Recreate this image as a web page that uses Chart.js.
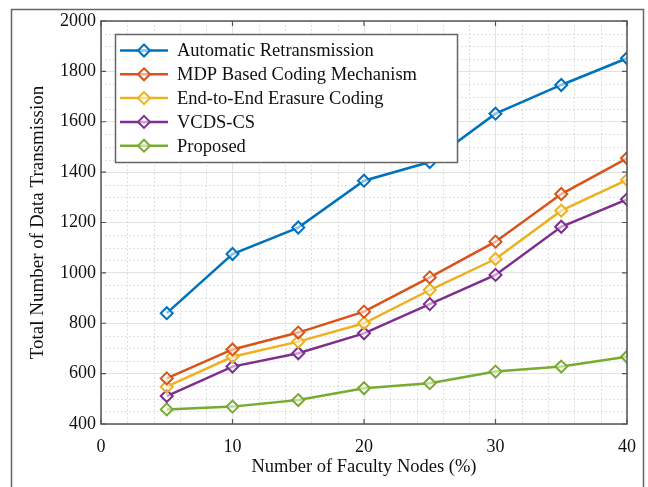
<!DOCTYPE html>
<html>
<head>
<meta charset="utf-8">
<script src="https://cdn.jsdelivr.net/npm/chart.js@4.4.0/dist/chart.umd.min.js"></script>
<style>
  html, body { margin: 0; padding: 0; background: #fff; }
  #wrap { width: 648px; height: 487px; }
</style>
</head>
<body>
<div id="wrap"><canvas id="chart" width="648" height="487"></canvas></div>
<script>
// data
const faultyNodes = [5, 10, 15, 20, 25, 30, 35, 40];
const autoRetrans = [840, 1075, 1180, 1366, 1440, 1632, 1746, 1852];
const mdpCoding   = [581, 696, 763, 846, 982, 1124, 1313, 1455];
const e2eErasure  = [548, 667, 727, 800, 932, 1055, 1247, 1369];
const vcdsCs      = [511, 628, 681, 760, 876, 992, 1183, 1292];
const proposed    = [458, 469, 495, 542, 562, 608, 628, 667];

const seriesNames = ['Automatic Retransmission', 'MDP Based Coding Mechanism',
  'End-to-End Erasure Coding', 'VCDS-CS', 'Proposed'];
const seriesColors = ['#0072BD', '#D95319', '#EDB120', '#7E2F8E', '#77AC30'];

const xTicks = [0, 10, 20, 30, 40];
const yTicks = [400, 600, 800, 1000, 1200, 1400, 1600, 1800, 2000];

const serif = 'Liberation Serif, Times New Roman, serif';

function toPoints(vals) {
  return vals.map((v, i) => ({ x: faultyNodes[i], y: v }));
}

const allSeries = [autoRetrans, mdpCoding, e2eErasure, vcdsCs, proposed];

const datasets = allSeries.map((vals, i) => ({
  label: seriesNames[i],
  data: toPoints(vals),
  borderColor: seriesColors[i],
  backgroundColor: seriesColors[i],
  borderWidth: 2.5,
  pointStyle: 'rectRot',
  pointRadius: 6,
  pointBorderWidth: 2,
  pointBackgroundColor: 'rgba(255,255,255,0.55)',
  pointBorderColor: seriesColors[i],
  tension: 0
}));

// minor dotted grid + box, ticks and outer frame
const backdrop = {
  id: 'backdrop',
  beforeDatasetsDraw(chart) {
    const { ctx, chartArea: a, scales: { x, y } } = chart;
    ctx.save();
    ctx.strokeStyle = '#d6d6d6';
    ctx.lineWidth = 1;
    ctx.setLineDash([1.5, 2.5]);
    for (let v = 2; v < 40; v += 2) {
      if (v % 10 === 0) continue;
      const px = Math.round(x.getPixelForValue(v)) + 0.5;
      ctx.beginPath(); ctx.moveTo(px, a.top); ctx.lineTo(px, a.bottom); ctx.stroke();
    }
    for (let v = 450; v < 2000; v += 50) {
      if (v % 200 === 0) continue;
      const py = Math.round(y.getPixelForValue(v)) + 0.5;
      ctx.beginPath(); ctx.moveTo(a.left, py); ctx.lineTo(a.right, py); ctx.stroke();
    }
    ctx.restore();
  },
  afterDraw(chart) {
    const { ctx, chartArea: a, scales: { x, y } } = chart;
    ctx.save();
    ctx.strokeStyle = '#555';
    ctx.lineWidth = 1.5;
    ctx.strokeRect(a.left, a.top, a.right - a.left, a.bottom - a.top);
    ctx.lineWidth = 1.2;
    xTicks.forEach(v => {
      const px = x.getPixelForValue(v);
      ctx.beginPath();
      ctx.moveTo(px, a.bottom); ctx.lineTo(px, a.bottom - 5);
      ctx.moveTo(px, a.top); ctx.lineTo(px, a.top + 5);
      ctx.stroke();
    });
    yTicks.forEach(v => {
      const py = y.getPixelForValue(v);
      ctx.beginPath();
      ctx.moveTo(a.left, py); ctx.lineTo(a.left + 5, py);
      ctx.moveTo(a.right, py); ctx.lineTo(a.right - 5, py);
      ctx.stroke();
    });
    ctx.strokeStyle = '#666';
    ctx.lineWidth = 1.5;
    ctx.strokeRect(11.5, 9.5, 632, 500);
    ctx.restore();
  }
};

// legend box inside the plot, upper left
const boxLegend = {
  id: 'boxLegend',
  afterDatasetsDraw(chart) {
    const { ctx } = chart;
    const bx = 115, by = 34, bw = 342, bh = 128;
    ctx.save();
    ctx.fillStyle = '#fff';
    ctx.fillRect(bx, by, bw, bh);
    ctx.strokeStyle = '#666';
    ctx.lineWidth = 1.5;
    ctx.strokeRect(bx + 0.5, by + 0.5, bw, bh);
    ctx.font = '18.5px ' + serif;
    ctx.textBaseline = 'middle';
    chart.data.datasets.forEach((ds, i) => {
      const cy = by + 16.5 + i * 23.8;
      ctx.strokeStyle = ds.borderColor;
      ctx.lineWidth = 2.5;
      ctx.beginPath(); ctx.moveTo(120, cy); ctx.lineTo(168, cy); ctx.stroke();
      ctx.lineWidth = 2;
      ctx.fillStyle = 'rgba(255,255,255,0.55)';
      ctx.beginPath();
      ctx.moveTo(144, cy - 6); ctx.lineTo(150, cy); ctx.lineTo(144, cy + 6); ctx.lineTo(138, cy);
      ctx.closePath(); ctx.fill(); ctx.stroke();
      ctx.fillStyle = '#111';
      ctx.fillText(ds.label, 177, cy + 1);
    });
    ctx.restore();
  }
};

new Chart(document.getElementById('chart'), {
  type: 'line',
  data: { datasets: datasets },
  options: {
    responsive: false,
    animation: false,
    devicePixelRatio: 1,
    layout: { padding: { left: 27, right: 17, top: 21, bottom: 9 } },
    plugins: { legend: { display: false }, tooltip: { enabled: false } },
    scales: {
      x: {
        type: 'linear',
        min: 0, max: 40,
        afterBuildTicks: s => { s.ticks = xTicks.map(v => ({ value: v })); },
        afterFit: s => { s.height = 54; },
        ticks: { font: { family: serif, size: 18 }, color: '#111', padding: 12, maxRotation: 0,
          callback: v => String(v) },
        grid: { color: '#e2e2e2', drawTicks: false },
        border: { display: false },
        title: {
          display: true, text: 'Number of Faculty Nodes (%)',
          font: { family: serif, size: 18.5 }, color: '#111', padding: 0
        }
      },
      y: {
        min: 400, max: 2000,
        afterBuildTicks: s => { s.ticks = yTicks.map(v => ({ value: v })); },
        afterFit: s => { s.width = 74; },
        ticks: { font: { family: serif, size: 18 }, color: '#111', padding: 5,
          callback: v => String(v) },
        grid: { color: '#e2e2e2', drawTicks: false },
        border: { display: false },
        title: {
          display: true, text: 'Total Number of Data Transmission',
          font: { family: serif, size: 19 }, color: '#111', padding: 0
        }
      }
    }
  },
  plugins: [backdrop, boxLegend]
});
</script>
</body>
</html>
